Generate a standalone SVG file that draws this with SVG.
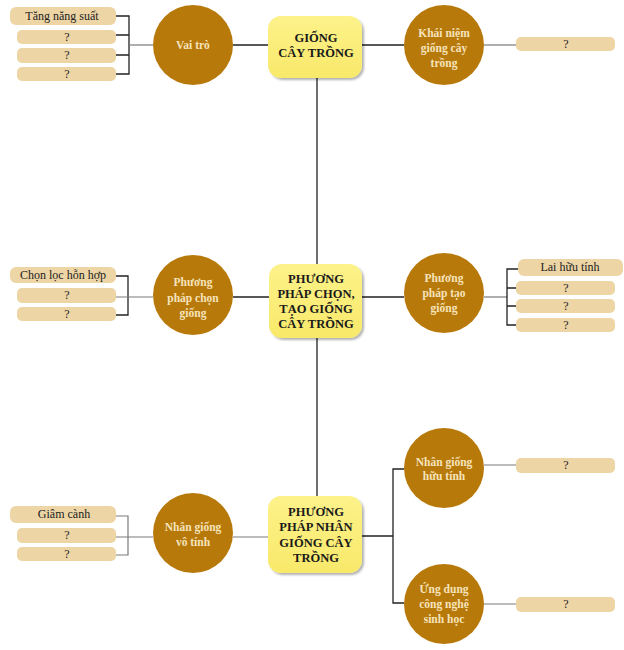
<svg xmlns="http://www.w3.org/2000/svg" width="624" height="650" viewBox="0 0 624 650">
<defs>
<linearGradient id="yg" x1="0" y1="0" x2="0" y2="1">
<stop offset="0" stop-color="#FDF28A"/>
<stop offset="1" stop-color="#F8E96A"/>
</linearGradient>
<filter id="sh" x="-10%" y="-10%" width="130%" height="130%">
<feDropShadow dx="2" dy="2" stdDeviation="1.2" flood-color="#000" flood-opacity="0.3"/>
</filter>
</defs>
<style>
.hub{fill:url(#yg);filter:url(#sh)}
.hubt{font-family:"Liberation Serif",serif;font-weight:bold;font-size:12.5px;fill:#1a1a1a;text-anchor:middle}
.cir{fill:#B8790B}
.cirt{font-family:"Liberation Serif",serif;font-weight:bold;font-size:11.5px;fill:#F5E4BC;text-anchor:middle}
.leaf{fill:#EDD5A6}
.leaft{font-family:"Liberation Serif",serif;font-size:12px;fill:#222;text-anchor:middle}
.dk{stroke:#222;stroke-width:1.3;fill:none}
.gr{stroke:#7a7a7a;stroke-width:1.2;fill:none}
</style>
<rect width="624" height="650" fill="#fff"/>
<g id="connectors">
<path class="dk" d="M317 78V264M317 338V496"/>
<path class="dk" d="M233 45H268M362 45H404"/>
<path class="gr" d="M484 45H516"/>
<path class="dk" d="M116 16H129V74H116M116 35H129M116 55H129"/>
<path class="gr" d="M129 45H153"/>
<path class="dk" d="M233 297H270M362 297H404"/>
<path class="dk" d="M116 276H128V315H116"/>
<path class="gr" d="M116 297H153"/>
<path class="gr" d="M484 297H507"/>
<path class="dk" d="M518 269H507V325H516M507 288H516M507 306H516"/>
<path class="gr" d="M116 516H128V555H116M116 537H153"/>
<path class="gr" d="M233 537H268"/>
<path class="dk" d="M362 536H393M404 469H393V603H404"/>
<path class="gr" d="M484 465H516M484 604H516"/>
</g>
<g id="hub1"><rect class="hub" x="268" y="16" width="94" height="62" rx="13"/>
<text class="hubt" x="316" y="42">GIỐNG</text><text class="hubt" x="316" y="57">CÂY TRỒNG</text></g>
<g id="hub2"><rect class="hub" x="269" y="264" width="93" height="74" rx="13"/>
<text class="hubt" x="316" y="283">PHƯƠNG</text><text class="hubt" x="316" y="298">PHÁP CHỌN,</text><text class="hubt" x="316" y="313">TẠO GIỐNG</text><text class="hubt" x="316" y="328">CÂY TRỒNG</text></g>
<g id="hub3"><rect class="hub" x="268" y="496" width="94" height="77" rx="13"/>
<text class="hubt" x="316" y="516">PHƯƠNG</text><text class="hubt" x="316" y="531">PHÁP NHÂN</text><text class="hubt" x="316" y="547">GIỐNG CÂY</text><text class="hubt" x="316" y="562">TRỒNG</text></g>
<g id="c-vaitro"><circle class="cir" cx="193" cy="45" r="40"/><text class="cirt" x="193" y="49">Vai trò</text></g>
<g id="c-khainiem"><circle class="cir" cx="444" cy="45" r="40"/><text class="cirt" x="444" y="37">Khái niệm</text><text class="cirt" x="444" y="52">giống cây</text><text class="cirt" x="444" y="67">trồng</text></g>
<g id="c-chon"><circle class="cir" cx="193" cy="295" r="40"/><text class="cirt" x="193" y="286">Phương</text><text class="cirt" x="193" y="302">pháp chọn</text><text class="cirt" x="193" y="317">giống</text></g>
<g id="c-tao"><circle class="cir" cx="444" cy="293" r="40"/><text class="cirt" x="444" y="282">Phương</text><text class="cirt" x="444" y="297">pháp tạo</text><text class="cirt" x="444" y="312">giống</text></g>
<g id="c-votinh"><circle class="cir" cx="193" cy="533" r="40"/><text class="cirt" x="193" y="531">Nhân giống</text><text class="cirt" x="193" y="546">vô tính</text></g>
<g id="c-huutinh"><circle class="cir" cx="444" cy="468" r="40"/><text class="cirt" x="444" y="466">Nhân giống</text><text class="cirt" x="444" y="480">hữu tính</text></g>
<g id="c-ungdung"><circle class="cir" cx="444" cy="604" r="40"/><text class="cirt" x="444" y="593">Ứng dụng</text><text class="cirt" x="444" y="608">công nghệ</text><text class="cirt" x="444" y="623">sinh học</text></g>
<g id="l1"><rect class="leaf" x="10" y="7" width="106" height="18" rx="6"/><text class="leaft" x="62" y="20">Tăng năng suất</text></g>
<g id="l2"><rect class="leaf" x="17" y="30" width="99" height="14" rx="5"/><text class="leaft" x="67" y="41">?</text></g>
<g id="l3"><rect class="leaf" x="17" y="48" width="99" height="15" rx="5"/><text class="leaft" x="67" y="59">?</text></g>
<g id="l4"><rect class="leaf" x="17" y="67" width="99" height="14" rx="5"/><text class="leaft" x="67" y="78">?</text></g>
<g id="l5"><rect class="leaf" x="516" y="37" width="99" height="14" rx="5"/><text class="leaft" x="566" y="48">?</text></g>
<g id="l6"><rect class="leaf" x="10" y="267" width="106" height="16" rx="6"/><text class="leaft" x="63" y="279">Chọn lọc hỗn hợp</text></g>
<g id="l7"><rect class="leaf" x="17" y="288" width="99" height="15" rx="5"/><text class="leaft" x="67" y="299">?</text></g>
<g id="l8"><rect class="leaf" x="17" y="307" width="99" height="14" rx="5"/><text class="leaft" x="67" y="318">?</text></g>
<g id="l9"><rect class="leaf" x="518" y="259" width="105" height="17" rx="6"/><text class="leaft" x="570" y="271">Lai hữu tính</text></g>
<g id="l10"><rect class="leaf" x="516" y="281" width="99" height="14" rx="5"/><text class="leaft" x="566" y="292">?</text></g>
<g id="l11"><rect class="leaf" x="516" y="299" width="99" height="14" rx="5"/><text class="leaft" x="566" y="310">?</text></g>
<g id="l12"><rect class="leaf" x="516" y="318" width="99" height="14" rx="5"/><text class="leaft" x="566" y="329">?</text></g>
<g id="l13"><rect class="leaf" x="10" y="506" width="106" height="17" rx="6"/><text class="leaft" x="64" y="518">Giâm cành</text></g>
<g id="l14"><rect class="leaf" x="17" y="528" width="99" height="15" rx="5"/><text class="leaft" x="67" y="539">?</text></g>
<g id="l15"><rect class="leaf" x="17" y="547" width="99" height="14" rx="5"/><text class="leaft" x="67" y="558">?</text></g>
<g id="l16"><rect class="leaf" x="516" y="458" width="99" height="15" rx="5"/><text class="leaft" x="566" y="469">?</text></g>
<g id="l17"><rect class="leaf" x="516" y="597" width="99" height="15" rx="5"/><text class="leaft" x="566" y="608">?</text></g>
</svg>
